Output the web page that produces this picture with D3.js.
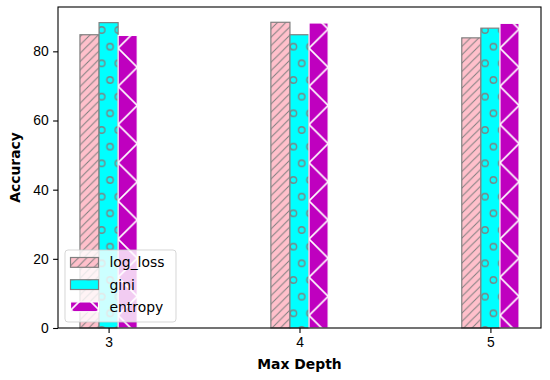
<!DOCTYPE html>
<html>
<head>
<meta charset="utf-8">
<script src="https://cdn.jsdelivr.net/npm/d3@7"></script>
<style>
	body { margin: 0; background: #fff; }
	svg { display: block; font-family: 'DejaVu Sans', sans-serif; }
	.axis text { font-size: 13.9px; fill: #000; }
	.axis-label { font-size: 13.9px; font-weight: bold; }
</style>
</head>
<body>
<div id="chart"></div>
<script>
// data
const depths = [3, 4, 5];
const logLoss = [84.8, 88.4, 83.9];
const gini = [88.3, 84.8, 86.7];
const entropy = [84.6, 88.2, 88.1];
const yTickValues = [0, 20, 40, 60, 80];

const seriesNames = ['log_loss', 'gini', 'entropy'];
const seriesValues = [logLoss, gini, entropy];

const width = 550;
const height = 380;
const margin = { top: 7, right: 9, bottom: 52, left: 58 };
const barWidth = 0.1;

// styles per series (fill, edge, hatch)
const styles = {
	log_loss: { fill: 'pink', edge: 'gray', hatch: 'lines' },
	gini: { fill: 'cyan', edge: 'gray', hatch: 'circles' },
	entropy: { fill: '#bf00bf', edge: 'white', hatch: 'zigzag' }
};

// one row per bar
const bars = [];
seriesNames.forEach((name, i) => {
	depths.forEach((d, j) => {
		bars.push({ series: name, depth: d, offset: (i - 1) * barWidth, value: seriesValues[i][j] });
	});
});

const svg = d3.select('#chart').append('svg')
	.attr('width', width)
	.attr('height', height);

// x: matplotlib-style 5% margin around the bars
const xMin = d3.min(depths) - 1.5 * barWidth;
const xMax = d3.max(depths) + 1.5 * barWidth;
const xPad = (xMax - xMin) * 0.05;
const x = d3.scaleLinear()
	.domain([xMin - xPad, xMax + xPad])
	.range([margin.left, width - margin.right]);

const yMax = d3.max(seriesValues.flat()) * 1.05;
const y = d3.scaleLinear()
	.domain([0, yMax])
	.range([height - margin.bottom, margin.top]);

const bw = x(barWidth) - x(0);
const defs = svg.append('defs');

// '//' hatch
const lineStep = 100 / 12;
defs.append('pattern')
	.attr('id', 'hatch-lines')
	.attr('patternUnits', 'userSpaceOnUse')
	.attr('width', lineStep)
	.attr('height', lineStep)
	.append('path')
		.attr('d', `M-1,1 l2,-2 M0,${lineStep} l${lineStep},${-lineStep} M${lineStep - 1},${lineStep + 1} l2,-2`)
		.attr('stroke', 'gray')
		.attr('stroke-width', 1);

// 'o' hatch
const cStep = 100 / 6;
const circ = defs.append('pattern')
	.attr('id', 'hatch-circles')
	.attr('patternUnits', 'userSpaceOnUse')
	.attr('x', 1.7)
	.attr('y', 30)
	.attr('width', cStep)
	.attr('height', cStep * 2);
[[0, 0], [cStep, 0], [0, cStep * 2], [cStep, cStep * 2], [cStep / 2, cStep]].forEach(p => {
	circ.append('circle')
		.attr('cx', p[0])
		.attr('cy', p[1])
		.attr('r', 3.2)
		.attr('fill', 'none')
		.attr('stroke', 'gray')
		.attr('stroke-width', 1.3);
});

// zigzag hatch, one pattern per entropy bar so the apexes sit on the edges
const zigzag = (id, x0, y0, w) => {
	defs.append('pattern')
		.attr('id', id)
		.attr('patternUnits', 'userSpaceOnUse')
		.attr('x', x0)
		.attr('y', y0)
		.attr('width', w)
		.attr('height', w)
		.append('path')
			.attr('d', `M-2,-2 L${w + 2},${w + 2} M${w + 2},-2 L-2,${w + 2}`)
			.attr('stroke', 'white')
			.attr('stroke-width', 1.6);
};

const hatchId = (d, i) => {
	if (d.series === 'log_loss') return 'url(#hatch-lines)';
	if (d.series === 'gini') return 'url(#hatch-circles)';
	return `url(#zz-${d.depth})`;
};

bars.filter(d => d.series === 'entropy').forEach(d => {
	zigzag(`zz-${d.depth}`, x(d.depth + d.offset - barWidth / 2), 10, bw * 2);
});

// bars
const g = svg.append('g');
const barG = g.selectAll('g.bar')
	.data(bars)
	.enter().append('g')
		.attr('class', 'bar');

const bx = d => x(d.depth + d.offset - barWidth / 2);
barG.append('rect')
	.attr('x', bx)
	.attr('y', d => y(d.value))
	.attr('width', bw)
	.attr('height', d => y(0) - y(d.value))
	.attr('fill', d => styles[d.series].fill);
barG.append('rect')
	.attr('x', bx)
	.attr('y', d => y(d.value))
	.attr('width', bw)
	.attr('height', d => y(0) - y(d.value))
	.attr('fill', hatchId);
barG.append('rect')
	.attr('x', bx)
	.attr('y', d => y(d.value))
	.attr('width', bw)
	.attr('height', d => y(0) - y(d.value))
	.attr('fill', 'none')
	.attr('stroke', d => styles[d.series].edge)
	.attr('stroke-width', 1.2);

// axes
svg.append('g')
	.attr('class', 'x-axis axis')
	.attr('transform', `translate(0, ${height - margin.bottom})`)
	.call(d3.axisBottom(x)
		.tickValues(depths)
		.tickFormat(d3.format('d'))
		.tickSize(4.9)
		.tickPadding(4.2))
	.call(g => g.select('.domain').remove());

svg.append('g')
	.attr('class', 'y-axis axis')
	.attr('transform', `translate(${margin.left}, 0)`)
	.call(d3.axisLeft(y)
		.tickValues(yTickValues)
		.tickSize(4.9)
		.tickPadding(4.4))
	.call(g => g.select('.domain').remove());

svg.selectAll('.axis .tick line').attr('stroke', '#000').attr('stroke-width', 1.1);

// frame
svg.append('rect')
	.attr('x', margin.left)
	.attr('y', margin.top)
	.attr('width', width - margin.left - margin.right)
	.attr('height', height - margin.top - margin.bottom)
	.attr('fill', 'none')
	.attr('stroke', '#000')
	.attr('stroke-width', 1.1);

// axis labels
svg.append('text')
	.attr('class', 'axis-label')
	.attr('x', (x.range()[0] + x.range()[1]) / 2)
	.attr('y', 369)
	.attr('text-anchor', 'middle')
	.text('Max Depth');

svg.append('text')
	.attr('class', 'axis-label')
	.attr('transform', `translate(20, ${(y.range()[0] + y.range()[1]) / 2}) rotate(-90)`)
	.attr('text-anchor', 'middle')
	.text('Accuracy');

// legend, lower left
const legend = svg.append('g')
	.attr('transform', `translate(${margin.left + 7}, 250)`);

legend.append('rect')
	.attr('width', 111)
	.attr('height', 72)
	.attr('rx', 3)
	.attr('fill', 'white')
	.attr('fill-opacity', 0.8)
	.attr('stroke', '#ccc')
	.attr('stroke-opacity', 0.8);

const entries = legend.selectAll('g.entry')
	.data(seriesNames)
	.enter().append('g')
		.attr('class', 'entry')
		.attr('transform', (d, i) => `translate(5.5, ${7.5 + i * 22.2})`);

zigzag('zz-legend', margin.left + 12.5, 250 + 7.5 + 2 * 22.2, 28);

entries.append('rect')
	.attr('width', 28)
	.attr('height', 9.8)
	.attr('fill', d => styles[d].fill);
entries.append('rect')
	.attr('width', 28)
	.attr('height', 9.8)
	.attr('fill', d => d === 'entropy' ? 'url(#zz-legend)' : hatchId({ series: d }));
entries.append('rect')
	.attr('width', 28)
	.attr('height', 9.8)
	.attr('fill', 'none')
	.attr('stroke', d => styles[d].edge)
	.attr('stroke-width', 1.2);
entries.append('text')
	.attr('x', 39)
	.attr('y', 5)
	.attr('dy', '0.35em')
	.style('font-size', '13.9px')
	.text(d => d);
</script>
</body>
</html>
